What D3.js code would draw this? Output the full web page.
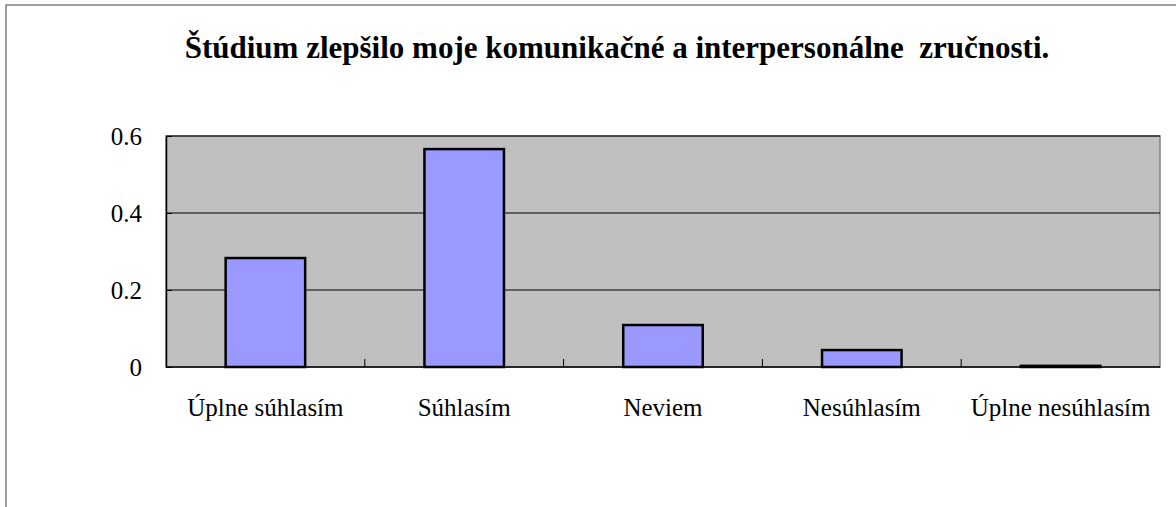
<!DOCTYPE html>
<html>
<head>
<meta charset="utf-8">
<script src="https://cdn.jsdelivr.net/npm/d3@7"></script>
<style>
  html, body { margin: 0; padding: 0; background: #fff; }
  svg { display: block; }
  text { font-family: "Liberation Serif", "DejaVu Serif", serif; fill: #000; }
</style>
</head>
<body>
<div class="graph"></div>
<script>
// data
const categories = ['Úplne súhlasím', 'Súhlasím', 'Neviem', 'Nesúhlasím', 'Úplne nesúhlasím']
const values = [0.283, 0.566, 0.109, 0.044, 0.003]
const yTicks = [0, 0.2, 0.4, 0.6]
const titleText = 'Štúdium zlepšilo moje komunikačné a interpersonálne  zručnosti.'

const W = 1176, H = 507
const plot = { left: 166, top: 136, right: 1160, bottom: 367 }

const svg = d3.select('.graph').append('svg')
  .attr('width', W)
  .attr('height', H)

// outer frame (runs off the right and bottom edge)
svg.append('rect')
  .attr('x', 6).attr('y', 5)
  .attr('width', 1200).attr('height', 600)
  .attr('fill', '#fff')
  .attr('stroke', '#808080')
  .attr('stroke-width', 1.5)

//标题
svg.append('text')
  .attr('x', 617).attr('y', 58)
  .attr('text-anchor', 'middle')
  .attr('font-size', 31)
  .attr('font-weight', 'bold')
  .style('white-space', 'pre')
  .text(titleText)

const x = d3.scaleBand()
  .domain(categories)
  .range([plot.left, plot.right])
  .paddingInner(0.6)
  .paddingOuter(0.3)

const y = d3.scaleLinear()
  .domain([0, 0.6])
  .range([plot.bottom, plot.top])

// plot area
svg.append('rect')
  .attr('x', plot.left).attr('y', plot.top)
  .attr('width', plot.right - plot.left)
  .attr('height', plot.bottom - plot.top)
  .attr('fill', '#C0C0C0')
  .attr('stroke', '#808080')
  .attr('stroke-width', 1.5)

// gridlines
svg.append('g')
  .selectAll('line')
  .data(yTicks.filter(d => d > 0))
  .enter()
  .append('line')
  .attr('x1', plot.left).attr('x2', plot.right)
  .attr('y1', d => y(d)).attr('y2', d => y(d))
  .attr('stroke', '#000')
  .attr('stroke-width', 1)

// bars
svg.append('g')
  .selectAll('rect')
  .data(values)
  .enter()
  .append('rect')
  .attr('x', (d, i) => x(categories[i]))
  .attr('y', d => y(d))
  .attr('width', x.bandwidth())
  .attr('height', d => y(0) - y(d))
  .attr('fill', '#9999FF')
  .attr('stroke', '#000')
  .attr('stroke-width', 2.5)

// y axis
const yAxis = svg.append('g')
  .attr('transform', `translate(${plot.left},0)`)
  .call(d3.axisLeft(y).tickValues(yTicks).tickFormat(d => d === 0 ? '0' : d3.format('.1f')(d)).tickSizeInner(-6).tickSizeOuter(0).tickPadding(24))
yAxis.select('.domain').attr('stroke', '#000').attr('stroke-width', 1.5)
yAxis.selectAll('.tick line').attr('stroke', '#000')
yAxis.selectAll('.tick text')
  .attr('font-size', 25)
  .attr('font-family', '"Liberation Serif", serif')
  .attr('fill', '#000')

// x axis: line at 0 with ticks between categories
const boundaries = d3.range(1, categories.length).map(i => plot.left + i * (plot.right - plot.left) / categories.length)
svg.append('line')
  .attr('x1', plot.left).attr('x2', plot.right)
  .attr('y1', y(0)).attr('y2', y(0))
  .attr('stroke', '#000')
  .attr('stroke-width', 1.5)
svg.append('g')
  .selectAll('line')
  .data(boundaries)
  .enter()
  .append('line')
  .attr('x1', d => d).attr('x2', d => d)
  .attr('y1', y(0)).attr('y2', y(0) - 8)
  .attr('stroke', '#000')

svg.append('g')
  .selectAll('text')
  .data(categories)
  .enter()
  .append('text')
  .attr('x', d => x(d) + x.bandwidth() / 2)
  .attr('y', 416)
  .attr('text-anchor', 'middle')
  .attr('font-size', 25)
  .text(d => d)
</script>
</body>
</html>
